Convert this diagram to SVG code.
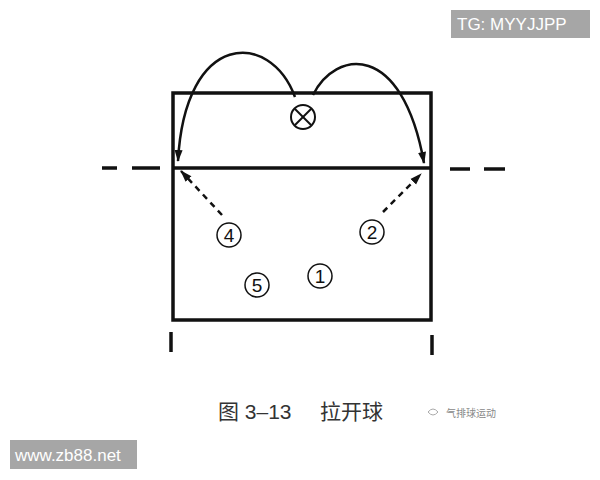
<svg xmlns="http://www.w3.org/2000/svg" width="600" height="480" viewBox="0 0 600 480">
<defs>
<marker id="ah" viewBox="0 0 12 10" refX="11" refY="5" markerWidth="5" markerHeight="4" orient="auto" markerUnits="strokeWidth">
<path d="M0,1 L12,5 L0,9 Z" fill="#111"/>
</marker>
<style>
.court{fill:none;stroke:#111;stroke-width:3.5}
.line{stroke:#111;stroke-width:3.5;fill:none}
.arc{stroke:#111;stroke-width:2.5;fill:none}
.dash{stroke:#111;stroke-width:2.5;fill:none;stroke-dasharray:6,5}
.pc{fill:#fff;stroke:#111;stroke-width:1.5}
.pt{font-family:"Liberation Sans",Arial,sans-serif;font-size:19px;fill:#111;text-anchor:middle}
</style>
</defs>
<rect width="600" height="480" fill="#fff"/>
<g id="court">
<rect class="court" x="173" y="93" width="258" height="227"/>
<line class="line" x1="173" y1="168" x2="431" y2="168"/>
<line class="line" x1="102" y1="168" x2="117" y2="168"/>
<line class="line" x1="132" y1="168" x2="160" y2="168"/>
<line class="line" x1="450" y1="169" x2="470" y2="169"/>
<line class="line" x1="484" y1="169" x2="505" y2="169"/>
<line class="line" x1="171" y1="332" x2="171" y2="352"/>
<line class="line" x1="432" y1="335" x2="432" y2="355"/>
</g>
<g id="ball">
<circle cx="303" cy="117" r="12" fill="#fff" stroke="#111" stroke-width="2"/>
<line x1="295" y1="109" x2="311" y2="125" stroke="#111" stroke-width="2"/>
<line x1="311" y1="109" x2="295" y2="125" stroke="#111" stroke-width="2"/>
</g>
<g id="connectors">
<path class="arc" d="M295,97 C270,30 185,30 178,161" marker-end="url(#ah)"/>
<path class="arc" d="M313,95 C335,50 402,40 424,163" marker-end="url(#ah)"/>
<path class="dash" d="M222,215 L181,171" marker-end="url(#ah)"/>
<path class="dash" d="M383,212 L421,174" marker-end="url(#ah)"/>
</g>
<g id="p4"><circle class="pc" cx="229" cy="235" r="12"/><text class="pt" x="229" y="242">4</text></g>
<g id="p2"><circle class="pc" cx="372" cy="232" r="12"/><text class="pt" x="372" y="239">2</text></g>
<g id="p1"><circle class="pc" cx="320" cy="276" r="12"/><text class="pt" x="320" y="283">1</text></g>
<g id="p5"><circle class="pc" cx="257" cy="285" r="12"/><text class="pt" x="257" y="292">5</text></g>
<g id="caption">
<text x="218" y="419" font-family="'Liberation Sans','Noto Sans CJK SC',sans-serif" font-size="21" fill="#333">图 3–13</text>
<text x="320" y="419" font-family="'Noto Sans CJK SC',sans-serif" font-size="21" fill="#333">拉开球</text>
<text x="446" y="417" font-family="'Noto Sans CJK SC',sans-serif" font-size="10" fill="#888">气排球运动</text>
<path d="M428,412 q5,-6 10,0 q-5,6 -10,0 Z" fill="none" stroke="#aaa" stroke-width="1"/>
</g>
<g id="tg">
<rect x="451" y="10" width="139" height="28" fill="#a6a6a6"/>
<text x="457" y="30" font-family="'Liberation Sans',Arial,sans-serif" font-size="17" fill="#fff">TG: MYYJJPP</text>
</g>
<g id="url">
<rect x="10" y="440" width="127" height="29" fill="#a6a6a6"/>
<text x="15" y="461" font-family="'Liberation Sans',Arial,sans-serif" font-size="17" fill="#fff">www.zb88.net</text>
</g>
</svg>
